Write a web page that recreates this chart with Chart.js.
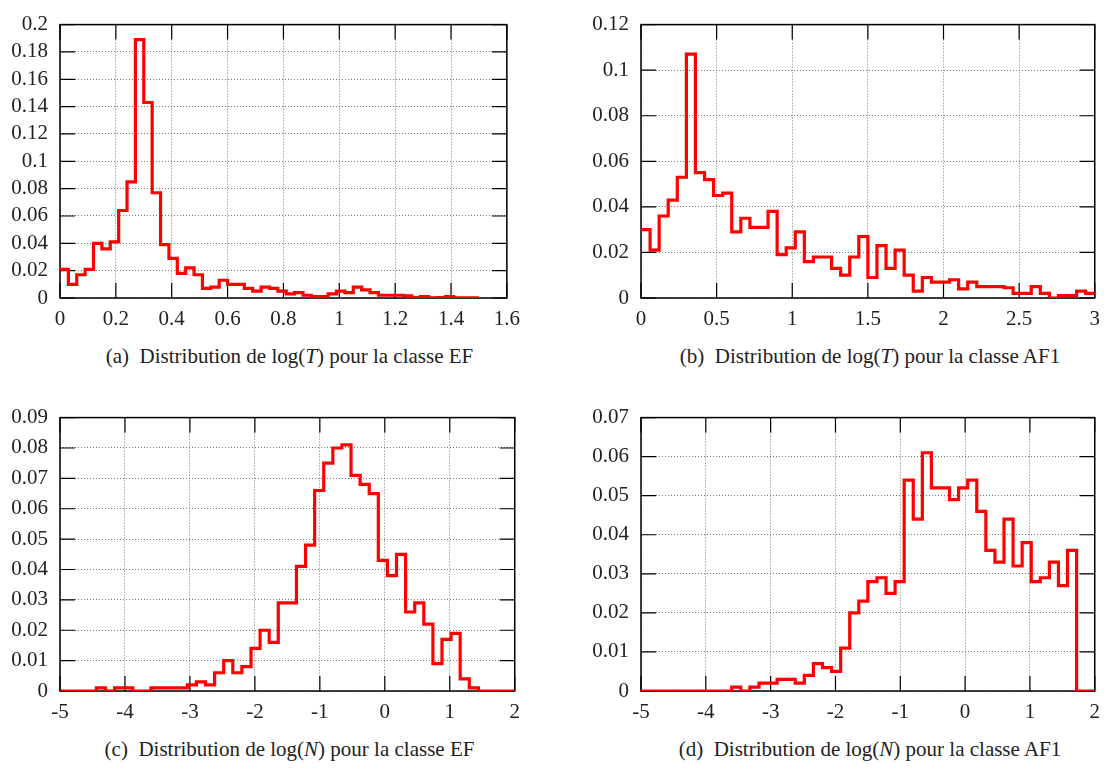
<!DOCTYPE html>
<html>
<head>
<meta charset="utf-8">
<script src="https://cdn.jsdelivr.net/npm/chart.js@4.4.1/dist/chart.umd.min.js"></script>
<style>
    body { margin: 0; background: #fff; overflow: hidden; width: 1110px; height: 768px; position: relative; }
    canvas { position: absolute; }
    .cap { position: absolute; text-align: center; font-family: "Liberation Serif", "DejaVu Serif", serif; font-size: 21px; color: #222; line-height: 24px; white-space: nowrap; }
</style>
</head>
<body>
<canvas id="ga"></canvas>
<canvas id="gb"></canvas>
<canvas id="gc"></canvas>
<canvas id="gd"></canvas>
<div class="cap" id="capa">(a)&ensp;Distribution de log(<i>T</i>) pour la classe EF</div>
<div class="cap" id="capb">(b)&ensp;Distribution de log(<i>T</i>) pour la classe AF1</div>
<div class="cap" id="capc">(c)&ensp;Distribution de log(<i>N</i>) pour la classe EF</div>
<div class="cap" id="capd">(d)&ensp;Distribution de log(<i>N</i>) pour la classe AF1</div>
<script>
// histogram heights, one value per bin
var logTEF = [0.021, 0.010, 0.017, 0.021, 0.040, 0.036, 0.041, 0.064, 0.085, 0.189,
    0.143, 0.077, 0.039, 0.029, 0.018, 0.022, 0.017, 0.007, 0.008, 0.013,
    0.010, 0.010, 0.007, 0.005, 0.008, 0.007, 0.005, 0.003, 0.004, 0.002,
    0.001, 0.001, 0.003, 0.005, 0.004, 0.008, 0.006, 0.004, 0.002, 0.002,
    0.002, 0.0015, 0.0003, 0.001, 0.0002, 0.0003, 0.001, 0.0002, 0.0002, 0.0002];
var logTAF1 = [0.030, 0.021, 0.036, 0.043, 0.053, 0.107, 0.055, 0.052, 0.045, 0.046,
    0.029, 0.035, 0.031, 0.031, 0.038, 0.019, 0.022, 0.029, 0.016, 0.018,
    0.018, 0.013, 0.010, 0.018, 0.027, 0.009, 0.023, 0.013, 0.021, 0.010,
    0.003, 0.009, 0.007, 0.007, 0.008, 0.004, 0.007, 0.005, 0.005, 0.005,
    0.0045, 0.002, 0.002, 0.005, 0.002, 0.0, 0.001, 0.001, 0.003, 0.002];
var logNEF = [0, 0, 0, 0, 0.001, 0, 0.001, 0.001, 0, 0,
    0.001, 0.001, 0.001, 0.001, 0.002, 0.003, 0.002, 0.006, 0.010, 0.006,
    0.008, 0.014, 0.020, 0.016, 0.029, 0.029, 0.041, 0.048, 0.066, 0.075,
    0.080, 0.081, 0.071, 0.068, 0.065, 0.043, 0.038, 0.045, 0.026, 0.029,
    0.022, 0.009, 0.017, 0.019, 0.004, 0.001, 0, 0, 0, 0];
var logNAF1 = [0, 0, 0, 0, 0, 0, 0, 0, 0, 0,
    0.001, 0, 0.001, 0.002, 0.002, 0.003, 0.003, 0.002, 0.004, 0.007,
    0.006, 0.005, 0.011, 0.020, 0.023, 0.028, 0.029, 0.025, 0.028, 0.054,
    0.044, 0.061, 0.052, 0.052, 0.049, 0.052, 0.054, 0.046, 0.036, 0.033,
    0.044, 0.032, 0.038, 0.028, 0.029, 0.033, 0.027, 0.036, 0, 0];

// bins: first edge and width
var binsT_EF = [0, 0.03];
var binsT_AF1 = [0, 0.06];
var binsN = [-5, 0.14];

// tick values
var xTicksT_EF = [0, 0.2, 0.4, 0.6, 0.8, 1, 1.2, 1.4, 1.6];
var xTicksT_AF1 = [0, 0.5, 1, 1.5, 2, 2.5, 3];
var xTicksN = [-5, -4, -3, -2, -1, 0, 1, 2];
var yTicksA = [0, 0.02, 0.04, 0.06, 0.08, 0.1, 0.12, 0.14, 0.16, 0.18, 0.2];
var yTicksB = [0, 0.02, 0.04, 0.06, 0.08, 0.1, 0.12];
var yTicksC = [0, 0.01, 0.02, 0.03, 0.04, 0.05, 0.06, 0.07, 0.08, 0.09];
var yTicksD = [0, 0.01, 0.02, 0.03, 0.04, 0.05, 0.06, 0.07];

var FONT = { family: "'Liberation Serif', 'DejaVu Serif', serif", size: 21 };
var TICKLEN = 15;
var LEFT = 60, TOP = 16, RIGHTPAD = 10, BOTTOM = 42;

// border + inward ticks on all four sides (gnuplot look)
var frame = {
    id: 'frame',
    beforeDatasetsDraw: function (chart) {
        var a = chart.chartArea;
        var ctx = chart.ctx;
        var xs = chart.scales.x;
        var ys = chart.scales.y;
        ctx.save();
        ctx.strokeStyle = '#000';
        ctx.lineWidth = 1.2;
        ctx.beginPath();
        xs.ticks.forEach(function (t) {
            var px = xs.getPixelForValue(t.value);
            ctx.moveTo(px, a.bottom);
            ctx.lineTo(px, a.bottom - TICKLEN);
            ctx.moveTo(px, a.top);
            ctx.lineTo(px, a.top + TICKLEN);
        });
        ys.ticks.forEach(function (t) {
            var py = ys.getPixelForValue(t.value);
            ctx.moveTo(a.left, py);
            ctx.lineTo(a.left + TICKLEN, py);
            ctx.moveTo(a.right, py);
            ctx.lineTo(a.right - TICKLEN, py);
        });
        ctx.stroke();
        ctx.lineWidth = 1.5;
        ctx.strokeRect(a.left, a.top, a.right - a.left, a.bottom - a.top);
        ctx.restore();
    }
};

function fmt(v) {
    return String(+(+v).toFixed(4));
}

function makeHist(id, capId, box, values, bins, xTicks, yTicks) {
    var pts = [];
    for (var i = 0; i < values.length; i++) {
        pts.push({ x: +(bins[0] + i * bins[1]).toFixed(4), y: values[i] });
    }
    // closing edge of the last bin
    pts.push({ x: +(bins[0] + values.length * bins[1]).toFixed(4), y: values[values.length - 1] });

    var cv = document.getElementById(id);
    var w = box.r - box.l + LEFT + RIGHTPAD;
    var h = box.b - box.t + TOP + BOTTOM;
    cv.style.left = (box.l - LEFT) + 'px';
    cv.style.top = (box.t - TOP) + 'px';
    cv.style.width = w + 'px';
    cv.style.height = h + 'px';
    cv.width = w;
    cv.height = h;

    var cap = document.getElementById(capId);
    cap.style.left = box.l + 'px';
    cap.style.width = (box.r - box.l) + 'px';
    cap.style.top = (box.b + 46) + 'px';

    return new Chart(cv, {
        type: 'line',
        data: {
            datasets: [{
                data: pts,
                stepped: 'before',
                borderColor: '#ff0000',
                borderWidth: 3.2,
                pointRadius: 0,
                fill: false
            }]
        },
        options: {
            responsive: false,
            animation: false,
            layout: { padding: { left: 0, top: TOP, right: RIGHTPAD, bottom: 0 } },
            plugins: { legend: { display: false }, tooltip: { enabled: false } },
            scales: {
                x: {
                    type: 'linear',
                    min: xTicks[0],
                    max: xTicks[xTicks.length - 1],
                    afterFit: function (s) { s.height = BOTTOM; },
                    afterBuildTicks: function (s) { s.ticks = xTicks.map(function (v) { return { value: v }; }); },
                    ticks: { font: FONT, color: '#222', padding: 9, maxRotation: 0, autoSkip: false, callback: fmt },
                    grid: { color: '#777', lineWidth: 1, drawTicks: false },
                    border: { display: false, dash: [1, 2] }
                },
                y: {
                    min: yTicks[0],
                    max: yTicks[yTicks.length - 1],
                    afterFit: function (s) { s.width = LEFT; },
                    afterBuildTicks: function (s) { s.ticks = yTicks.map(function (v) { return { value: v }; }); },
                    ticks: { font: FONT, color: '#222', padding: 12, autoSkip: false, callback: fmt },
                    grid: { color: '#777', lineWidth: 1, drawTicks: false },
                    border: { display: false, dash: [1, 2] }
                }
            }
        },
        plugins: [frame]
    });
}

makeHist('ga', 'capa', { l: 60, t: 16, r: 519, b: 298 }, logTEF, binsT_EF, xTicksT_EF, yTicksA);
makeHist('gb', 'capb', { l: 641, t: 16, r: 1099, b: 298 }, logTAF1, binsT_AF1, xTicksT_AF1, yTicksB);
makeHist('gc', 'capc', { l: 60, t: 409, r: 519, b: 691 }, logNEF, binsN, xTicksN, yTicksC);
makeHist('gd', 'capd', { l: 641, t: 409, r: 1099, b: 691 }, logNAF1, binsN, xTicksN, yTicksD);
</script>
</body>
</html>
